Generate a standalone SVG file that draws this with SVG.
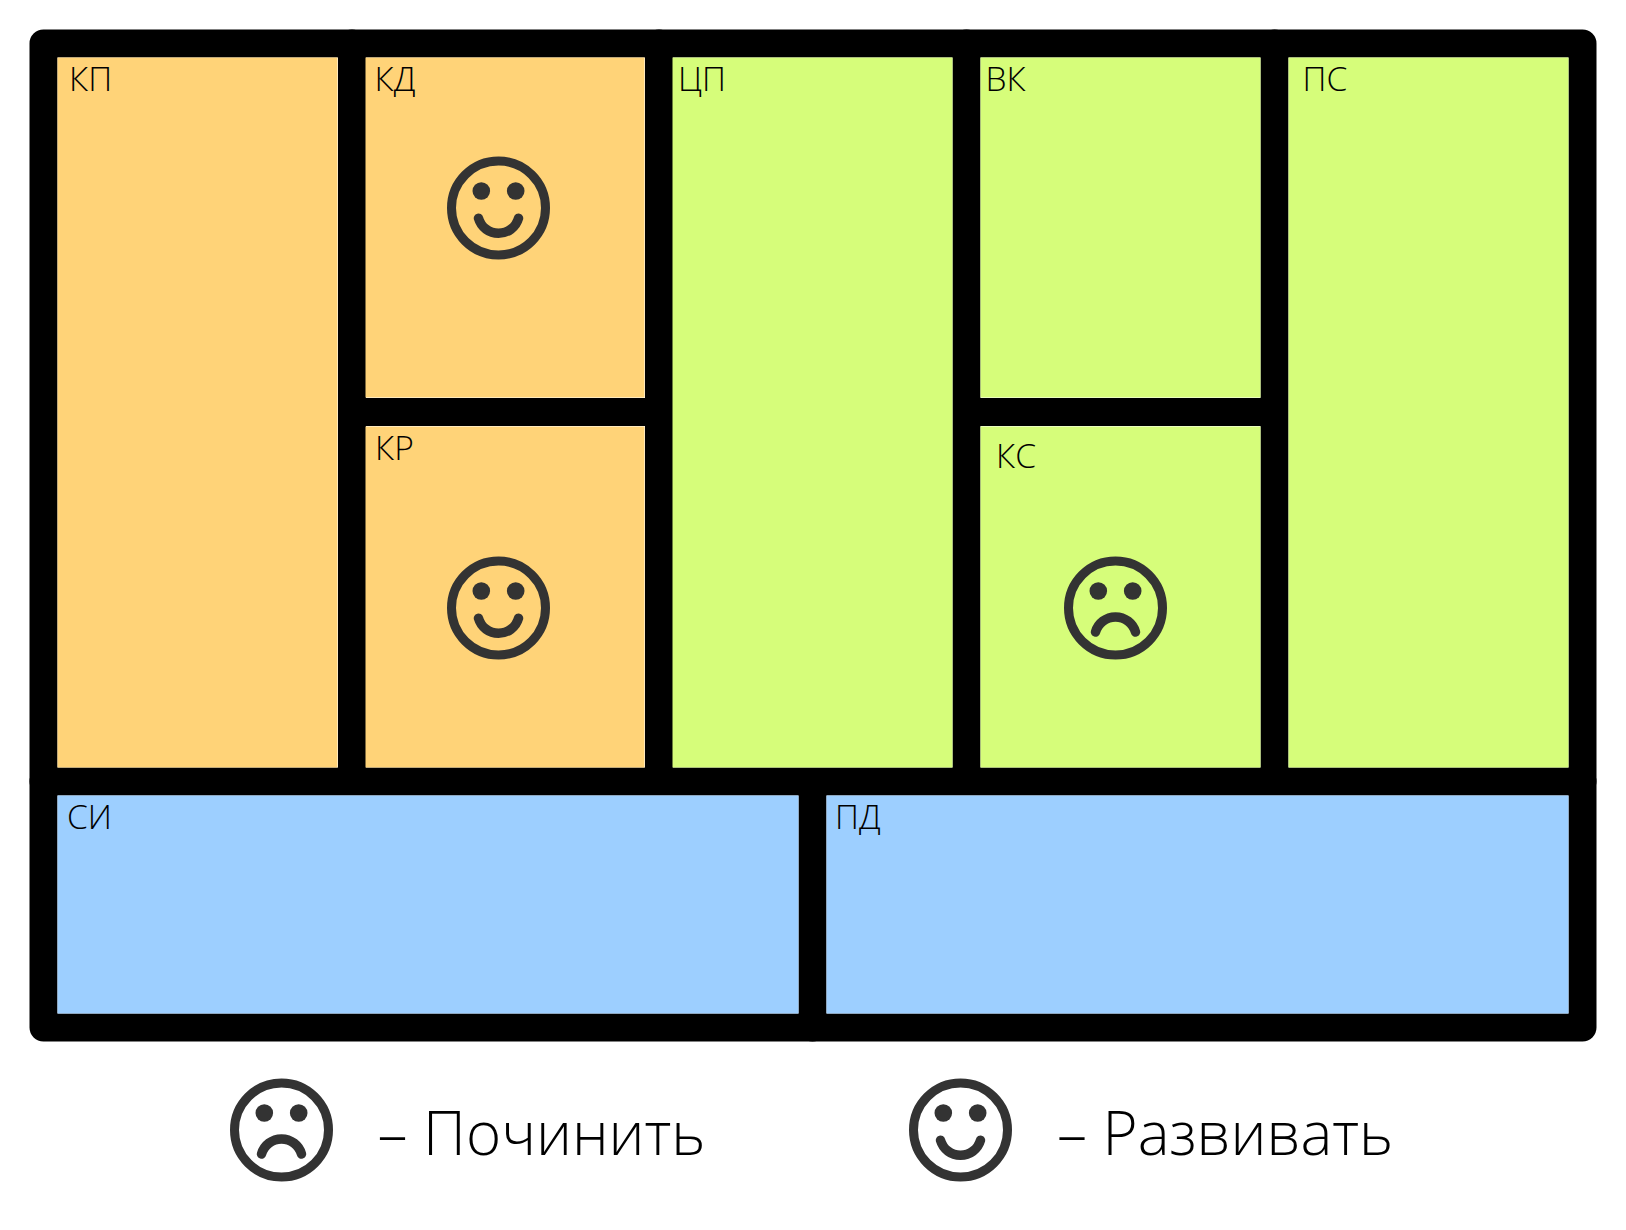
<svg xmlns="http://www.w3.org/2000/svg" width="1626" height="1230" viewBox="0 0 1626 1230">
<defs>
<style>
.o{fill:#ffd378}.g{fill:#d6fd7a}.b{fill:#9dcfff}
.t{font-family:"Open Sans","Liberation Sans",sans-serif;font-weight:300;font-size:33.5px;fill:#000}
.l{font-size:60px}
.f{fill:none;stroke:#333;stroke-width:9;stroke-linecap:round}
.m{stroke-width:9.5}
.e{fill:#333}
.w{fill:none;stroke:#000;stroke-width:28;stroke-linecap:round}
</style>
<g id="smile"><circle class="f" r="47"/><circle class="e" cx="-17.2" cy="-17" r="8.8"/><circle class="e" cx="17.2" cy="-17" r="8.8"/><path class="f m" d="M-20 10.200A20.800 20.800 0 0 0 20 10.200"/></g>
<g id="frown"><circle class="f" r="47"/><circle class="e" cx="-17.2" cy="-17" r="8.8"/><circle class="e" cx="17.2" cy="-17" r="8.8"/><path class="f m" d="M-20 24A20.800 20.800 0 0 1 20 24"/></g>
</defs>
<rect width="1626" height="1230" fill="#fff"/>
<g id="connectors">
<path class="w" d="M43.5 43.5H1582.500V1027.500H43.5Z" stroke-linejoin="round"/>
<path class="w" d="M43.5 781.500H1582.500M352 43.500V781.500M659 43.500V781.500M966.500 43.500V781.500M1274.500 43.500V781.500M352 412H659M966.500 412H1274.500M812.500 781.500V1027.500"/>
</g>
<g id="kp"><rect class="o" x="57.500" y="57.500" width="280" height="710"/><text class="t" x="69" y="91">КП</text></g>
<g id="kd"><rect class="o" x="365.500" y="57.500" width="279" height="340"/><text class="t" x="374.500" y="91">КД</text><use href="#smile" x="498.500" y="208"/></g>
<g id="kr"><rect class="o" x="365.500" y="426.500" width="279" height="341"/><text class="t" x="375" y="459.500">КР</text><use href="#smile" x="498.500" y="608"/></g>
<g id="cp"><rect class="g" x="672.500" y="57.500" width="280" height="710"/><text class="t" x="678" y="91">ЦП</text></g>
<g id="vk"><rect class="g" x="980.500" y="57.500" width="280" height="340"/><text class="t" x="985.500" y="91">ВК</text></g>
<g id="ks"><rect class="g" x="980.500" y="426.500" width="280" height="341"/><text class="t" x="996" y="468">КС</text><use href="#frown" x="1115.500" y="608"/></g>
<g id="ps"><rect class="g" x="1288.500" y="57.500" width="280" height="710"/><text class="t" x="1302.500" y="91">ПС</text></g>
<g id="si"><rect class="b" x="57.500" y="795.500" width="741" height="218"/><text class="t" x="67" y="829">СИ</text></g>
<g id="pd"><rect class="b" x="826.500" y="795.500" width="742" height="218"/><text class="t" x="835" y="829">ПД</text></g>
<g id="legend-fix"><use href="#frown" x="281.500" y="1130"/><text class="t l" x="377.500" y="1155">– Починить</text></g>
<g id="legend-grow"><use href="#smile" x="960.500" y="1130"/><text class="t l" x="1057" y="1155">– Развивать</text></g>
</svg>
